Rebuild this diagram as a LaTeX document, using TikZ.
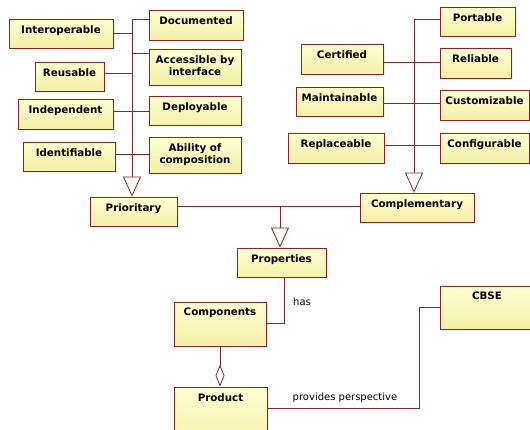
\documentclass[tikz,border=0pt]{standalone}
\usepackage{fontspec}
\setmainfont{DejaVu Sans}
\usetikzlibrary{arrows.meta,shadows}
\definecolor{umlline}{RGB}{130,40,40}
\definecolor{umltop}{RGB}{255,255,212}
\definecolor{umlbot}{RGB}{244,240,168}
\newcommand\umlbox[6]{\node[box, minimum width={(#4-#2)*1pt}, minimum height={(#5-#3)*1pt}, label={[lbl]north:{#6}}] (#1) at ({(#2+#4)/2},{(#3+#5)/2}) {};}
\begin{document}
\begin{tikzpicture}[x=1pt,y=-1pt,
 box/.style={draw=umlline, line width=0.8pt, top color=umltop, bottom color=umlbot, inner sep=0pt, drop shadow={opacity=0.12,shadow xshift=2pt,shadow yshift=-2pt}},
 lbl/.style={anchor=north, font=\bfseries\fontsize{10.3}{12.8}\selectfont, align=center, inner xsep=1pt, inner ysep=6.5pt, text=black},
 conn/.style={draw=umlline, line width=0.8pt},
 gen/.style={conn, -{Triangle[open, length=20pt, width=18pt, fill=white]}},
 agg/.style={conn, {Diamond[open, length=22pt, width=9pt, fill=white]}-},
 small/.style={font=\fontsize{10}{12}\selectfont, inner sep=0pt, text=black}]
\useasboundingbox (0,0) rectangle (530,430);
\fill[white] (0,0) rectangle (530,430);
\clip (0,0) rectangle (530,430);
% left group
\umlbox{inter}{9}{19}{113}{48}{Interoperable}
\umlbox{doc}{149}{10}{243}{40}{Documented}
\umlbox{access}{149}{49}{241}{85}{Accessible by\\interface}
\umlbox{reuse}{35}{62}{104}{91}{Reusable}
\umlbox{indep}{18}{99}{113}{129}{Independent}
\umlbox{deploy}{149}{96}{241}{125}{Deployable}
\umlbox{ident}{23}{142}{115}{171}{Identifiable}
\umlbox{abil}{149}{137}{241}{173}{Ability of\\composition}
\umlbox{prio}{90}{197}{177}{226}{Prioritary}
% right group
\umlbox{port}{440}{7}{515}{36}{Portable}
\umlbox{cert}{301}{44}{383}{74}{Certified}
\umlbox{reli}{440}{48}{511}{78}{Reliable}
\umlbox{maint}{296}{87}{383}{116}{Maintainable}
\umlbox{cust}{440}{90}{529}{120}{Customizable}
\umlbox{repl}{288}{133}{384}{163}{Replaceable}
\umlbox{conf}{440}{133}{529}{163}{Configurable}
\umlbox{compl}{360}{193}{474}{222}{Complementary}
% lower part
\umlbox{prop}{237}{248}{326}{277}{Properties}
\umlbox{compo}{174}{302}{266}{346}{Components}
\umlbox{prod}{174}{387}{267}{445}{Product}
\umlbox{cbse}{440}{286}{534}{329}{CBSE}
% bus coordinates
\coordinate (lb) at (132,19);
\coordinate (rb) at (414,19);
\coordinate (mid) at (280,206);
\coordinate (hasc) at (284,323);
\coordinate (cb1) at (419,307);
\coordinate (cb2) at (419,408);
% left tree
\draw[conn] (doc.west |- lb) -- (lb);
\draw[conn] (inter.east |- 0,33) -- (lb |- 0,33);
\draw[conn] (access.west |- 0,53) -- (lb |- 0,53);
\draw[conn] (reuse.east |- 0,73) -- (lb |- 0,73);
\draw[conn] (indep.east |- 0,111) -- (deploy.west |- 0,111);
\draw[conn] (ident.east |- 0,154) -- (abil.west |- 0,154);
\draw[gen] (lb) -- (lb |- prio.north);
% right tree
\draw[conn] (port.west |- rb) -- (rb);
\draw[conn] (cert.east |- 0,62) -- (reli.west |- 0,62);
\draw[conn] (maint.east |- 0,103) -- (cust.west |- 0,103);
\draw[conn] (repl.east |- 0,145) -- (conf.west |- 0,145);
\draw[gen] (rb) -- (rb |- compl.north);
% middle
\draw[conn] (prio.east |- mid) -- (compl.west |- mid);
\draw[gen] (mid) -- (mid |- prop.north);
% has
\draw[conn] (prop.south -| hasc) -- (hasc) -- (compo.east |- hasc);
\node[small] (haslbl) at (302,302) {has};
% aggregation
\draw[agg] (prod.north -| 220,0) -- (compo.south -| 220,0);
% provides perspective
\draw[conn] (cbse.west |- cb1) -- (cb1) -- (cb2) -- (prod.east |- cb2);
\node[small] (pplbl) at (345,398) {provides perspective};
\end{tikzpicture}
\end{document}
